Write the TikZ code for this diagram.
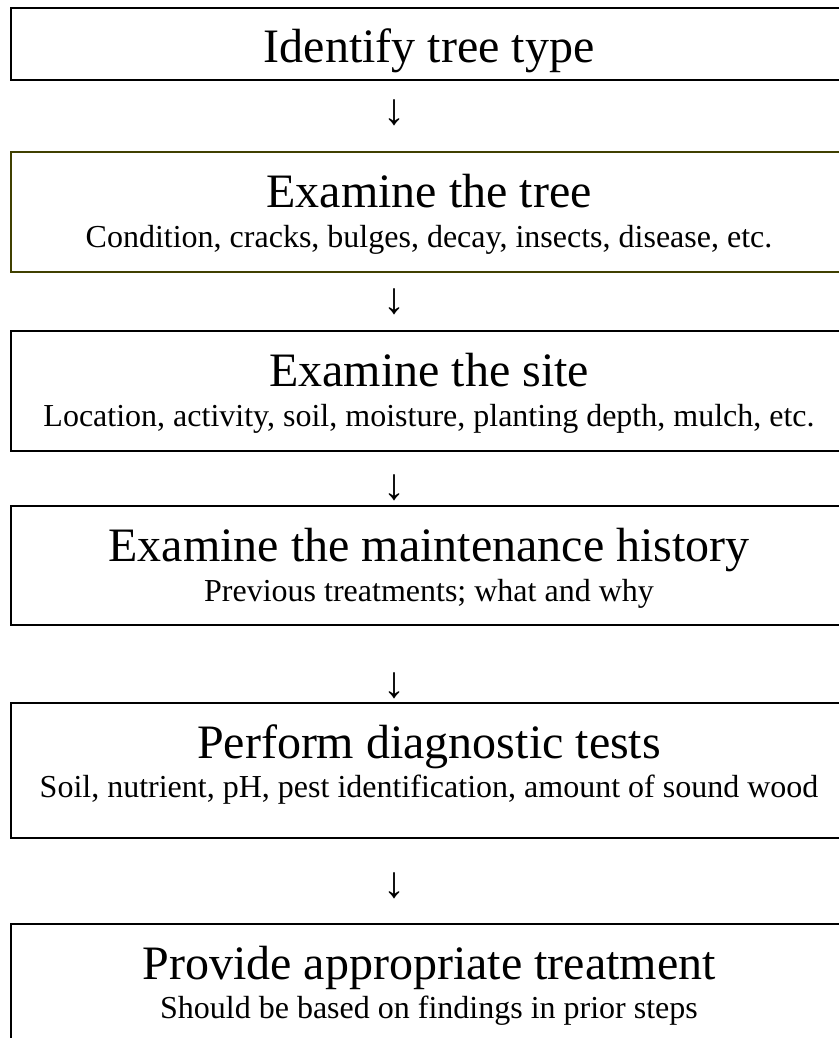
\documentclass[tikz,border=0pt]{standalone}
\usepackage{fontspec}
\setmainfont{Liberation Serif}
\usetikzlibrary{positioning}
\definecolor{olivebox}{RGB}{64,64,0}
\tikzset{
	stepbox/.style={draw, rectangle, line width=1.8pt, minimum width=838pt, anchor=north west, inner sep=0pt},
	% big first line and small second line of each step
	title/.style={anchor=base, inner sep=0pt, font=\fontsize{48}{48}\selectfont},
	detail/.style={anchor=base, inner sep=0pt, font=\fontsize{32}{32}\selectfont},
	down/.style={inner sep=0pt, font=\fontsize{44}{44}\selectfont},
}
\begin{document}
\begin{tikzpicture}[x=1pt, y=1pt]
	\useasboundingbox (0,0) rectangle (838,-1038);
	
	\node (b1) [stepbox, minimum height=72pt] at (10,-7) {};
	\node (t1) [title] at (429,-63) {Identify tree type};
	
	\node (a1) [down] at (394,-113) {↓};
	
	\node (b2) [stepbox, draw=olivebox, minimum height=120pt] at (10,-151) {};
	\node (t2) [title] at (429,-207) {Examine the tree};
	\node (d2) [detail] at (429,-247) {Condition, cracks, bulges, decay, insects, disease, etc.};
	
	\node (a2) [down] at (394,-302) {↓};
	
	\node (b3) [stepbox, minimum height=120pt] at (10,-330) {};
	\node (t3) [title] at (429,-386) {Examine the site};
	\node (d3) [detail] at (429,-426) {Location, activity, soil, moisture, planting depth, mulch, etc.};
	
	\node (a3) [down] at (394,-488) {↓};
	
	\node (b4) [stepbox, minimum height=119pt] at (10,-505) {};
	\node (t4) [title] at (429,-561) {Examine the maintenance history};
	\node (d4) [detail] at (429,-601) {Previous treatments; what and why};
	
	\node (a4) [down] at (394,-686) {↓};
	
	\node (b5) [stepbox, minimum height=135pt] at (10,-702) {};
	\node (t5) [title] at (429,-758) {Perform diagnostic tests};
	\node (d5) [detail] at (429,-797) {Soil, nutrient, pH, pest identification, amount of sound wood};
	
	\node (a5) [down] at (394,-886) {↓};
	
	\node (b6) [stepbox, minimum height=140pt] at (10,-923) {};
	\node (t6) [title] at (429,-979) {Provide appropriate treatment};
	\node (d6) [detail] at (429,-1018) {Should be based on findings in prior steps};
	
\end{tikzpicture}
\end{document}
